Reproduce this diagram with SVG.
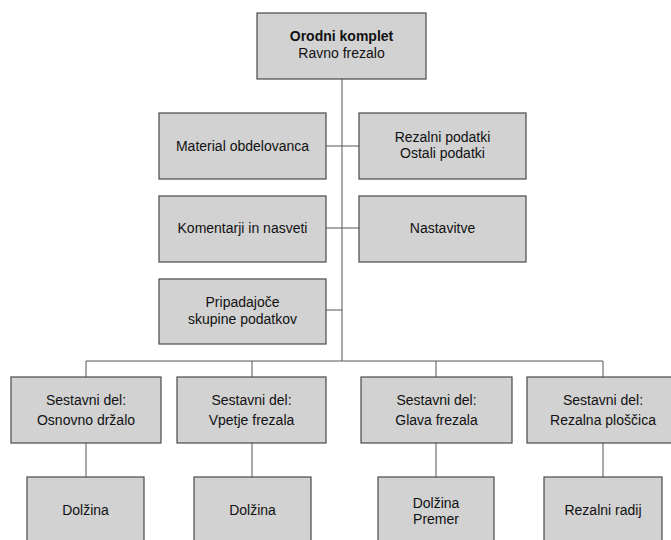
<svg xmlns="http://www.w3.org/2000/svg" width="671" height="540" viewBox="0 0 671 540">
<style>
.box{fill:#d2d2d2;stroke:#4a4a4a;stroke-width:1.2}
.t{font-family:"Liberation Sans",Arial,sans-serif;font-size:14px;fill:#111;text-anchor:middle}
.b{font-weight:bold}
.c{fill:none;stroke:#555;stroke-width:1}
</style>
<rect width="671" height="540" fill="#fff"/>
<g id="connectors">
<path class="c" d="M342 79V361"/>
<path class="c" d="M326 146H359"/>
<path class="c" d="M326 228H359"/>
<path class="c" d="M326 310H342"/>
<path class="c" d="M86 377V361H603V377"/>
<path class="c" d="M252 361V377M436 361V377"/>
<path class="c" d="M86 443V477M252 443V477M436 443V477M603 443V477"/>
</g>
<g id="n_top"><rect class="box" x="257" y="13" width="169" height="66"/><text class="t b" x="341.5" y="41">Orodni komplet</text><text class="t" x="341.5" y="58">Ravno frezalo</text></g>
<g id="n_material"><rect class="box" x="159" y="113" width="167" height="66"/><text class="t" x="242.5" y="151">Material obdelovanca</text></g>
<g id="n_rezalni"><rect class="box" x="359" y="113" width="167" height="66"/><text class="t" x="442.5" y="142">Rezalni podatki</text><text class="t" x="442.5" y="158">Ostali podatki</text></g>
<g id="n_komentarji"><rect class="box" x="159" y="196" width="167" height="66"/><text class="t" x="242.5" y="233">Komentarji in nasveti</text></g>
<g id="n_nastavitve"><rect class="box" x="359" y="196" width="167" height="66"/><text class="t" x="442.5" y="233">Nastavitve</text></g>
<g id="n_pripadajoce"><rect class="box" x="159" y="279" width="167" height="65"/><text class="t" x="242.5" y="307">Pripadajoče</text><text class="t" x="242.5" y="324">skupine podatkov</text></g>
<g id="n_osnovno"><rect class="box" x="11" y="377" width="150" height="66"/><text class="t" x="86" y="405">Sestavni del:</text><text class="t" x="86" y="425">Osnovno držalo</text></g>
<g id="n_vpetje"><rect class="box" x="177" y="377" width="149" height="66"/><text class="t" x="251.5" y="405">Sestavni del:</text><text class="t" x="251.5" y="425">Vpetje frezala</text></g>
<g id="n_glava"><rect class="box" x="361" y="377" width="151" height="66"/><text class="t" x="436.5" y="405">Sestavni del:</text><text class="t" x="436.5" y="425">Glava frezala</text></g>
<g id="n_ploscica"><rect class="box" x="527" y="377" width="152" height="66"/><text class="t" x="603" y="405">Sestavni del:</text><text class="t" x="603" y="425">Rezalna ploščica</text></g>
<g id="n_dolzina1"><rect class="box" x="27" y="477" width="117" height="70"/><text class="t" x="85.5" y="515">Dolžina</text></g>
<g id="n_dolzina2"><rect class="box" x="194" y="477" width="117" height="70"/><text class="t" x="252.5" y="515">Dolžina</text></g>
<g id="n_dolzina3"><rect class="box" x="378" y="477" width="116" height="70"/><text class="t" x="436" y="508">Dolžina</text><text class="t" x="436" y="524">Premer</text></g>
<g id="n_radij"><rect class="box" x="544" y="477" width="118" height="70"/><text class="t" x="603" y="515">Rezalni radij</text></g>
</svg>
